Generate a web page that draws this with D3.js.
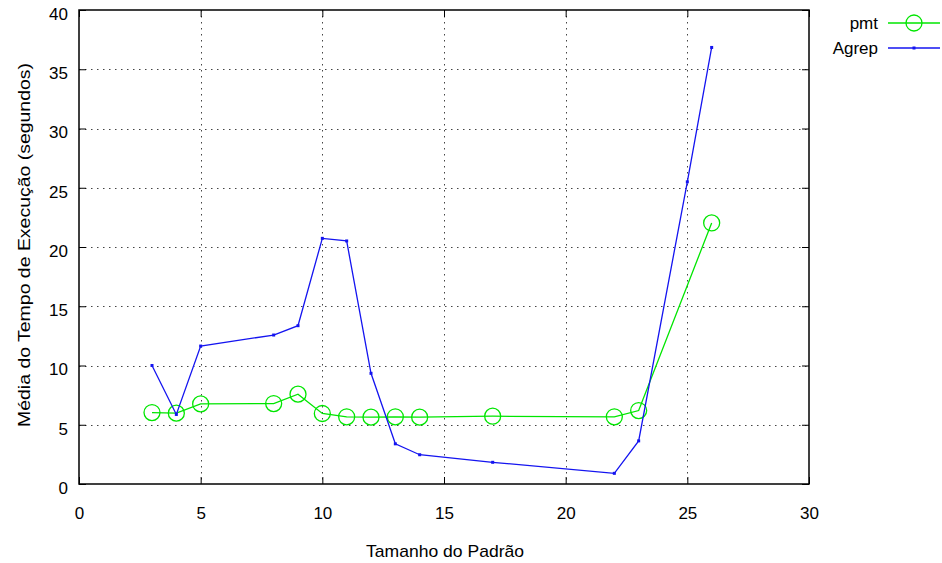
<!DOCTYPE html>
<html>
<head>
<meta charset="utf-8">
<script src="https://cdn.jsdelivr.net/npm/d3@7"></script>
<style>
  body { margin: 0; background: #fff; }
  svg text { font-family: "Liberation Sans", Arial, sans-serif; font-size: 17px; fill: #000; }
</style>
</head>
<body>
<div id="graph"></div>
<script>
/* chart values */
const sizes = [3, 4, 5, 8, 9, 10, 11, 12, 13, 14, 17, 22, 23, 26]
const pmtTimes = [6.03, 5.98, 6.76, 6.79, 7.58, 5.95, 5.67, 5.64, 5.67, 5.64, 5.72, 5.67, 6.2, 22.03]
const agrepSizes = [3, 4, 5, 8, 9, 10, 11, 12, 13, 14, 17, 22, 23, 25, 26]
const agrepTimes = [10.0, 5.87, 11.64, 12.57, 13.36, 20.73, 20.51, 9.34, 3.39, 2.47, 1.83, 0.9, 3.64, 25.5, 36.84]
const xTicks = [0, 5, 10, 15, 20, 25, 30]
const yTicks = [0, 5, 10, 15, 20, 25, 30, 35, 40]

window.addEventListener("DOMContentLoaded", main)

function main() {
    const W = 942, H = 563
    const left = 79, right = 809, top = 10, bottom = 484
    const pmtColor = "rgb(0, 230, 0)"
    const agrepColor = "rgb(20, 20, 240)"

    const svg = d3.select("#graph").append("svg").attr("width", W).attr("height", H)

    const xScale = d3.scaleLinear().domain([0, 30]).range([left, right])
    const yScale = d3.scaleLinear().domain([0, 40]).range([bottom, top])

    /* grid */
    const grid = svg.append("g").attr("stroke", "#444").attr("stroke-width", 1)
        .attr("stroke-dasharray", "1.5,4.5")
    grid.selectAll(".gx").data(xTicks.slice(1, -1)).enter().append("line")
        .attr("x1", d => Math.round(xScale(d)) + 0.5).attr("x2", d => Math.round(xScale(d)) + 0.5)
        .attr("y1", top).attr("y2", bottom)
    grid.selectAll(".gy").data(yTicks.slice(1, -1)).enter().append("line")
        .attr("y1", d => Math.round(yScale(d)) + 0.5).attr("y2", d => Math.round(yScale(d)) + 0.5)
        .attr("x1", left).attr("x2", right)

    /* axes: ticks inward on all sides */
    const xAxis = d3.axisBottom(xScale).tickValues(xTicks).tickSize(-7).tickPadding(23)
    const xAxisTop = d3.axisTop(xScale).tickValues(xTicks).tickSize(-7).tickFormat("")
    const yAxis = d3.axisLeft(yScale).tickValues(yTicks).tickSize(-7).tickPadding(11)
    const yAxisRight = d3.axisRight(yScale).tickValues(yTicks).tickSize(-7).tickFormat("")

    const gx = svg.append("g").attr("transform", "translate(0," + bottom + ")").call(xAxis)
    svg.append("g").attr("transform", "translate(0," + top + ")").call(xAxisTop)
    const gy = svg.append("g").attr("transform", "translate(" + left + ",0)").call(yAxis)
    svg.append("g").attr("transform", "translate(" + right + ",0)").call(yAxisRight)

    svg.selectAll(".domain").remove()
    svg.selectAll(".tick line").attr("stroke", "#000")
    svg.selectAll(".tick text").style("font-family", "Liberation Sans, Arial, sans-serif").style("font-size", "17px")
    gx.selectAll(".tick text").attr("dy", "0.71em")
    gy.selectAll(".tick text").attr("dy", "0.55em")

    /* border */
    svg.append("rect")
        .attr("x", left).attr("y", top)
        .attr("width", right - left).attr("height", bottom - top)
        .attr("fill", "none").attr("stroke", "#000").attr("stroke-width", 1.5)

    /* axis titles */
    svg.append("text")
        .attr("x", 445).attr("y", 557)
        .attr("text-anchor", "middle")
        .attr("textLength", 158).attr("lengthAdjust", "spacingAndGlyphs")
        .text("Tamanho do Padrão")
    svg.append("text")
        .attr("transform", "translate(30,245) rotate(-90)")
        .attr("text-anchor", "middle")
        .attr("textLength", 364).attr("lengthAdjust", "spacingAndGlyphs")
        .text("Média do Tempo de Execução (segundos)")

    /* pmt series */
    const pmtData = sizes.map((s, i) => [s, pmtTimes[i]])
    const agrepData = agrepSizes.map((s, i) => [s, agrepTimes[i]])
    const line = d3.line().x(d => xScale(d[0])).y(d => yScale(d[1]))

    svg.append("path").datum(pmtData)
        .attr("d", line).attr("fill", "none")
        .attr("stroke", pmtColor).attr("stroke-width", 1.3)
    svg.selectAll(".pmt").data(pmtData).enter().append("circle")
        .attr("cx", d => xScale(d[0])).attr("cy", d => yScale(d[1]))
        .attr("r", 8).attr("fill", "none")
        .attr("stroke", pmtColor).attr("stroke-width", 1.3)

    /* agrep series */
    svg.append("path").datum(agrepData)
        .attr("d", line).attr("fill", "none")
        .attr("stroke", agrepColor).attr("stroke-width", 1.3)
    svg.selectAll(".agrep").data(agrepData).enter().append("rect")
        .attr("x", d => xScale(d[0]) - 1.5).attr("y", d => yScale(d[1]) - 1.5)
        .attr("width", 3).attr("height", 3).attr("fill", agrepColor)

    /* legend */
    const legendData = [
        { text: "pmt", color: pmtColor, marker: "circle" },
        { text: "Agrep", color: agrepColor, marker: "dot" }
    ]
    const legend = svg.selectAll(".legend").data(legendData).enter().append("g")
        .attr("transform", (d, i) => "translate(0," + (23 + i * 25) + ")")
    legend.append("text")
        .attr("x", 878).attr("y", 0).attr("dy", "0.35em")
        .attr("text-anchor", "end")
        .text(d => d.text)
    legend.append("line")
        .attr("x1", 888).attr("x2", 940).attr("y1", 0).attr("y2", 0)
        .attr("stroke", d => d.color).attr("stroke-width", 1.3)
    legend.filter(d => d.marker === "circle").append("circle")
        .attr("cx", 914).attr("cy", 0).attr("r", 8)
        .attr("fill", "none").attr("stroke", d => d.color).attr("stroke-width", 1.3)
    legend.filter(d => d.marker === "dot").append("rect")
        .attr("x", 912.5).attr("y", -1.5).attr("width", 3).attr("height", 3)
        .attr("fill", d => d.color)
}
</script>
</body>
</html>
